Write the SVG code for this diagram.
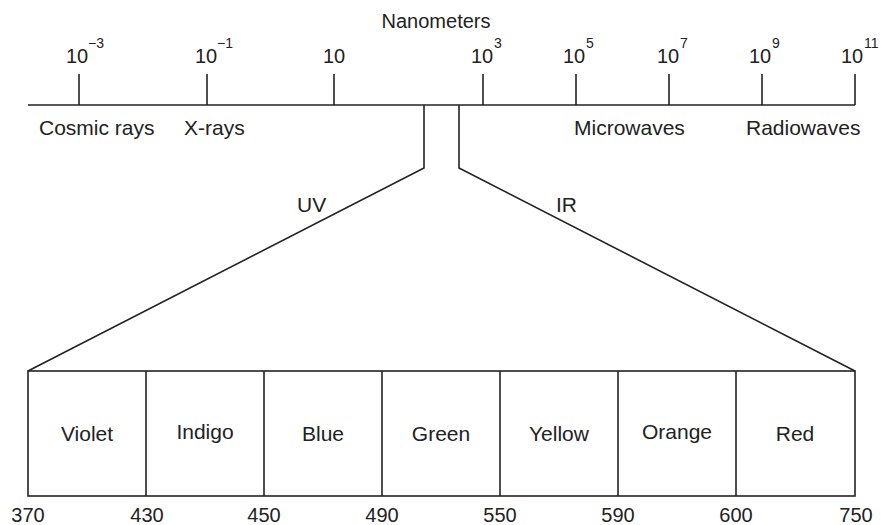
<svg xmlns="http://www.w3.org/2000/svg" width="881" height="525" viewBox="0 0 881 525">
<style>
text{font-family:"Liberation Sans",Arial,sans-serif;font-size:20px;fill:#222}
.sup{font-size:14px}
.w{font-size:21px}
.m{text-anchor:middle}
.s{stroke:#222;stroke-width:1.6;fill:none}
</style>
<rect width="881" height="525" fill="#fff"/>
<g id="axis">
<text class="m" x="436" y="28">Nanometers</text>
<line class="s" x1="28" y1="105" x2="855" y2="105"/>
<line class="s" x1="79" y1="74" x2="79" y2="105"/>
<line class="s" x1="207" y1="74" x2="207" y2="105"/>
<line class="s" x1="334" y1="74" x2="334" y2="105"/>
<line class="s" x1="483" y1="74" x2="483" y2="105"/>
<line class="s" x1="576" y1="74" x2="576" y2="105"/>
<line class="s" x1="669" y1="74" x2="669" y2="105"/>
<line class="s" x1="762" y1="74" x2="762" y2="105"/>
<line class="s" x1="855" y1="74" x2="855" y2="105"/>
<text class="m" x="77" y="63">10</text><text class="sup" x="88" y="48">−3</text>
<text class="m" x="206" y="63">10</text><text class="sup" x="217" y="48">−1</text>
<text class="m" x="334" y="63">10</text>
<text class="m" x="482" y="63">10</text><text class="sup" x="494" y="48">3</text>
<text class="m" x="574" y="63">10</text><text class="sup" x="586" y="48">5</text>
<text class="m" x="668" y="63">10</text><text class="sup" x="680" y="48">7</text>
<text class="m" x="760" y="63">10</text><text class="sup" x="772" y="48">9</text>
<text class="m" x="852" y="63">10</text><text class="sup" x="864" y="48">11</text>
<text class="w" x="39" y="135">Cosmic rays</text>
<text class="w" x="184" y="135">X-rays</text>
<text class="w" x="574" y="135">Microwaves</text>
<text class="w" x="746" y="135">Radiowaves</text>
</g>
<g id="connectors">
<path class="s" d="M424 105 V168 L28 371"/>
<path class="s" d="M459 105 V168 L855 371"/>
<text class="w" x="297" y="212">UV</text>
<text class="w" x="556" y="212">IR</text>
</g>
<g id="spectrum">
<rect class="s" x="28" y="371" width="827" height="125"/>
<line class="s" x1="146" y1="371" x2="146" y2="496"/>
<line class="s" x1="264" y1="371" x2="264" y2="496"/>
<line class="s" x1="382" y1="371" x2="382" y2="496"/>
<line class="s" x1="500" y1="371" x2="500" y2="496"/>
<line class="s" x1="618" y1="371" x2="618" y2="496"/>
<line class="s" x1="736" y1="371" x2="736" y2="496"/>
</g>
<g id="violet"><text class="m w" x="87" y="441">Violet</text></g>
<g id="indigo"><text class="m w" x="205" y="439">Indigo</text></g>
<g id="blue"><text class="m w" x="323" y="441">Blue</text></g>
<g id="green"><text class="m w" x="441" y="441">Green</text></g>
<g id="yellow"><text class="m w" x="559" y="441">Yellow</text></g>
<g id="orange"><text class="m w" x="677" y="439">Orange</text></g>
<g id="red"><text class="m w" x="795" y="441">Red</text></g>
<g id="scale">
<text class="m" x="28" y="522">370</text>
<text class="m" x="147" y="522">430</text>
<text class="m" x="264" y="522">450</text>
<text class="m" x="382" y="522">490</text>
<text class="m" x="500" y="522">550</text>
<text class="m" x="618" y="522">590</text>
<text class="m" x="736" y="522">600</text>
<text class="m" x="856" y="522">750</text>
</g>
</svg>
